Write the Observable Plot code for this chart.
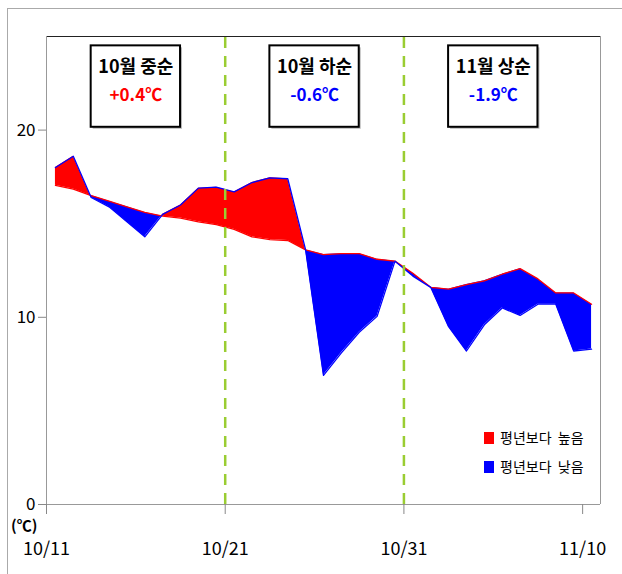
<!DOCTYPE html>
<html>
<head>
<meta charset="utf-8">
<script src="https://cdn.jsdelivr.net/npm/d3@7"></script>
<script src="https://cdn.jsdelivr.net/npm/@observablehq/plot@0.6"></script>
<style>
  html, body { margin: 0; padding: 0; background: #fff; }
  #wrap { position: relative; width: 622px; height: 574px; overflow: hidden; font-family: "Noto Sans CJK KR", "Noto Sans", sans-serif; }
  #border { position: absolute; left: 7px; top: 8px; width: 640px; height: 600px; border-left: 1px solid #aaa; border-top: 1px solid #aaa; }
  #chart { position: absolute; left: 0; top: 0; }
  g[aria-label="x-axis tick label"], g[aria-label="y-axis tick label"] { fill: #000; }
  g[aria-label="x-axis tick"], g[aria-label="y-axis tick"] { stroke: #888; }
  .unit { position: absolute; left: 11px; top: 517px; font-size: 15px; font-weight: bold; line-height: 1; }
  .legend { position: absolute; left: 484px; font-size: 14px; line-height: 1; }
  .legend span.sw { display: inline-block; width: 10px; height: 12px; margin-right: 6px; vertical-align: -1px; }
</style>
</head>
<body>
<div id="wrap">
  <div id="border"></div>
  <div id="chart"></div>
  <div class="unit">(℃)</div>
  <div class="legend" style="top:430px"><span class="sw" style="background:#ff0000"></span>평년보다&nbsp; 높음</div>
  <div class="legend" style="top:459px"><span class="sw" style="background:#0000ff"></span>평년보다&nbsp; 낮음</div>
</div>
<script>
// Daily mean temperature (10/11 ~ 11/10), observed vs normal (평년)
const observed = [18.0, 18.6, 16.4, 15.9, 15.1, 14.3, 15.5, 16.0, 16.9, 16.95,
                  16.7, 17.2, 17.45, 17.4, 13.6, 6.9, 8.1, 9.2, 10.05, 13.0,
                  12.2, 11.6, 9.5, 8.2, 9.6, 10.5, 10.1, 10.7, 10.7, 8.2, 8.3];
const normal   = [17.05, 16.85, 16.5, 16.2, 15.9, 15.6, 15.4, 15.3, 15.1, 14.95,
                  14.7, 14.3, 14.15, 14.1, 13.6, 13.35, 13.4, 13.4, 13.1, 13.0,
                  12.35, 11.6, 11.5, 11.75, 11.95, 12.3, 12.6, 12.05, 11.3, 11.3, 10.7];
const tickLabels = ["10/11", "10/21", "10/31", "11/10"];
const yTicks = [0, 10, 20];
const periods = ["10월 중순", "10월 하순", "11월 상순"];
const anomalies = ["+0.4℃", "-0.6℃", "-1.9℃"];
const legendNames = ["평년보다 높음", "평년보다 낮음"];

// build fill polygons between the two series, split where the sign changes
const xs = observed.map((_, i) => i + 0.5);
const diff = observed.map((v, i) => v - normal[i]);
const pieces = [];
for (let i = 0; i < observed.length - 1; i++) {
  const A = {x: xs[i], o: observed[i], n: normal[i]};
  const B = {x: xs[i + 1], o: observed[i + 1], n: normal[i + 1]};
  const d0 = diff[i], d1 = diff[i + 1];
  if (d0 * d1 < 0) {
    const t = d0 / (d0 - d1);
    const yc = observed[i] + t * (observed[i + 1] - observed[i]);
    const C = {x: xs[i] + t, o: yc, n: yc};
    pieces.push({a: A, b: C, s: d0 > 0 ? 1 : -1});
    pieces.push({a: C, b: B, s: d1 > 0 ? 1 : -1});
  } else {
    const m = d0 + d1;
    pieces.push({a: A, b: B, s: m >= 0 ? 1 : -1});
  }
}
const pts = [];
let g = -1, cur = 0;
for (const p of pieces) {
  if (p.s !== cur) { g++; cur = p.s; pts.push({...p.a, g, s: cur > 0 ? legendNames[0] : legendNames[1]}); }
  pts.push({...p.b, g, s: cur > 0 ? legendNames[0] : legendNames[1]});
}

const lineData = xs.map((x, i) => ({x, o: observed[i], n: normal[i]}));
const boxes = periods.map((p, k) => ({c: 10 * k + 5, p, a: anomalies[k], col: anomalies[k].startsWith("+") ? "#ff0000" : "#0000ff"}));

const chart = Plot.plot({
  width: 622,
  height: 574,
  marginLeft: 46,
  marginRight: 22,
  marginTop: 36,
  marginBottom: 70,
  style: {fontFamily: "'Noto Sans CJK KR', 'Noto Sans', sans-serif", background: "transparent", overflow: "visible"},
  x: {domain: [0, 31]},
  y: {domain: [0, 25]},
  color: {domain: legendNames, range: ["#ff0000", "#0000ff"]},
  marks: [
    Plot.areaY(pts, {x: "x", y1: "n", y2: "o", z: "g", fill: "s", curve: "linear"}),
    Plot.line(lineData, {x: "x", y: "n", stroke: "#ff0000", strokeWidth: 1.3}),
    Plot.line(lineData, {x: "x", y: "o", stroke: "#0000ff", strokeWidth: 1.3}),
    Plot.ruleX([10, 20], {y1: 0, y2: 25, stroke: "#9acd32", strokeWidth: 2.5, strokeDasharray: "11,8"}),
    Plot.ruleY([25], {x1: 0, x2: 31, stroke: "#222", strokeWidth: 1}),
    Plot.ruleX([31], {y1: 0, y2: 25, stroke: "#999", strokeWidth: 1}),
    Plot.ruleX([0], {y1: 0, y2: 25, stroke: "#999", strokeWidth: 1}),
    Plot.ruleY([0], {x1: 0, x2: 31, stroke: "#999", strokeWidth: 1}),
    Plot.axisX({ticks: [0, 10, 20, 30], tickFormat: (d) => tickLabels[d / 10], tickSize: 10, tickPadding: 28, fontSize: 18, label: null}),
    Plot.axisY({ticks: yTicks, tickSize: 8, tickPadding: 3, fontSize: 17, label: null}),
    Plot.rect(boxes, {x1: d => d.c - 2.5, x2: d => d.c + 2.5, y1: 20.15, y2: 24.5, fill: "#bbb", dx: 2, dy: 2}),
    Plot.rect(boxes, {x1: d => d.c - 2.5, x2: d => d.c + 2.5, y1: 20.15, y2: 24.5, fill: "#fff", stroke: "#000", strokeWidth: 2}),
    Plot.text(boxes, {x: "c", y: 23.35, text: "p", fontSize: 18, fontWeight: "bold", fill: "#000"}),
    Plot.text(boxes, {x: "c", y: 21.85, text: "a", fontSize: 17, fontWeight: "bold", fill: "col"})
  ]
});
document.getElementById("chart").appendChild(chart);
</script>
</body>
</html>
